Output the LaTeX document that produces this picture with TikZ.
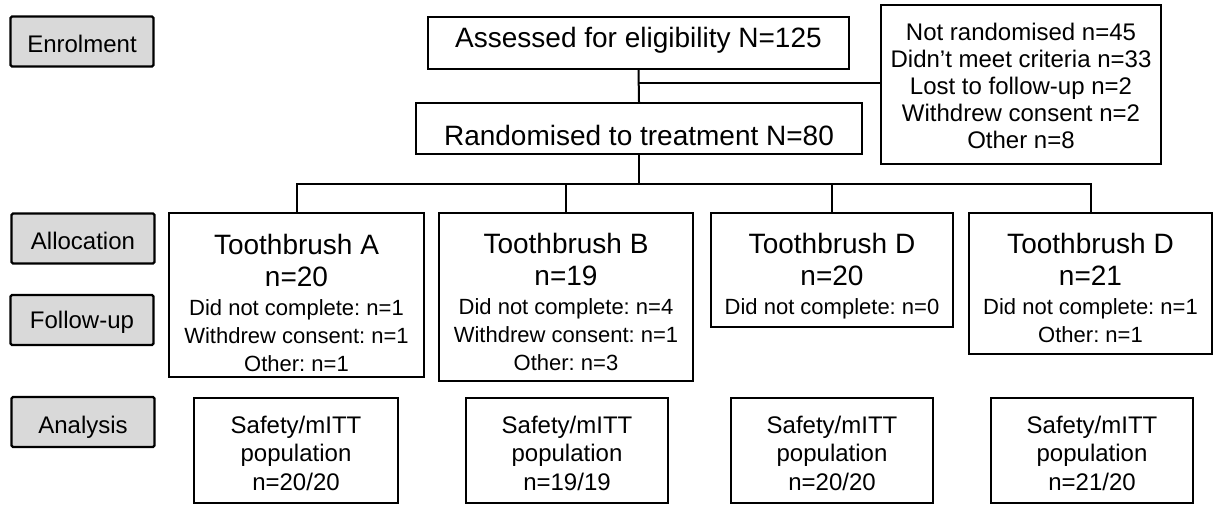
\documentclass[tikz,border=0pt]{standalone}
\usepackage{fontspec}
\setmainfont{Liberation Sans}
\definecolor{labelgray}{RGB}{217,217,217}
\frenchspacing
\begin{document}
\begin{tikzpicture}[x=1pt,y=-1pt,
  box/.style={draw=black, line width=2.2pt, inner sep=0pt},
  lab/.style={box, fill=labelgray, rounded corners=1.5pt, minimum width=143pt, minimum height=50pt},
  txt/.style={inner sep=0pt, align=center, anchor=north},
  big/.style={font=\fontsize{28}{32}\selectfont},
  small/.style={font=\fontsize{22}{28}\selectfont},
  mid/.style={font=\fontsize{24}{28.5}\selectfont},
  conn/.style={line width=2pt}]
\useasboundingbox (0,0) rectangle (1213,505);

% stage labels
\node[lab] (enrol) at (82,41.5) {};
\node[txt, mid] (enrolt) at (82,34.7) {Enrolment};
\node[lab] (alloc) at (83,238.5) {};
\node[txt, mid] (alloct) at (83,231.7) {Allocation};
\node[lab] (follow) at (82,320) {};
\node[txt, mid] (followt) at (82,310.7) {Follow-up};
\node[lab] (analysis) at (83,422) {};
\node[txt, mid] (analysist) at (83,415.5) {Analysis};

% enrolment
\node[box, minimum width=421pt, minimum height=52pt] (assess) at (638.5,43) {};
\node[txt, big] (assesst) at (638.5,26.7) {Assessed for eligibility N=125};
\node[box, minimum width=446pt, minimum height=51pt] (rand) at (639,128.5) {};
\node[txt, big] (randt) at (639,125) {Randomised to treatment N=80};
\node[box, minimum width=280pt, minimum height=159pt] (notrand) at (1021,84.5) {};
\node[txt, font=\fontsize{24}{27}\selectfont] (notrandt) at (1021,22.8)
  {Not randomised n=45\\Didn’t meet criteria n=33\\Lost to follow-up n=2\\Withdrew consent n=2\\Other n=8};

% arms
\node[box, minimum width=255pt, minimum height=164pt] (A) at (296.5,295) {};
\node[txt, small] (At) at (296.5,234)
  {{\fontsize{28}{32}\selectfont Toothbrush A}\\[4pt]{\fontsize{28}{32}\selectfont n=20}\\[1pt]Did not complete: n=1\\Withdrew consent: n=1\\Other: n=1};
\node[box, minimum width=254pt, minimum height=168pt] (B) at (566,297) {};
\node[txt, small] (Bt) at (566,233)
  {{\fontsize{28}{32}\selectfont Toothbrush B}\\[4pt]{\fontsize{28}{32}\selectfont n=19}\\[1pt]Did not complete: n=4\\Withdrew consent: n=1\\Other: n=3};
\node[box, minimum width=242pt, minimum height=114pt] (C) at (832,270) {};
\node[txt, small] (Ct) at (832,233)
  {{\fontsize{28}{32}\selectfont Toothbrush D}\\[4pt]{\fontsize{28}{32}\selectfont n=20}\\[1pt]Did not complete: n=0};
\node[box, minimum width=243pt, minimum height=141pt] (D) at (1090.5,283.5) {};
\node[txt, small] (Dt) at (1090.5,233)
  {{\fontsize{28}{32}\selectfont Toothbrush D}\\[4pt]{\fontsize{28}{32}\selectfont n=21}\\[1pt]Did not complete: n=1\\Other: n=1};

% analysis
\node[box, minimum width=204pt, minimum height=105pt] (S1) at (296,450.5) {};
\node[txt, mid] (S1t) at (296,415.5) {Safety/mITT\\population\\n=20/20};
\node[box, minimum width=202pt, minimum height=105pt] (S2) at (567,450.5) {};
\node[txt, mid] (S2t) at (567,415.5) {Safety/mITT\\population\\n=19/19};
\node[box, minimum width=202pt, minimum height=105pt] (S3) at (832,450.5) {};
\node[txt, mid] (S3t) at (832,415.5) {Safety/mITT\\population\\n=20/20};
\node[box, minimum width=202pt, minimum height=105pt] (S4) at (1092,450.5) {};
\node[txt, mid] (S4t) at (1092,415.5) {Safety/mITT\\population\\n=21/20};

% connectors
\coordinate (j1) at (639,83);
\coordinate (bus) at (639,184);
\draw[conn] (assess.south) -- (rand.north);
\draw[conn] (j1) -- (j1 -| notrand.west);
\draw[conn] (rand.south) -- (bus);
\draw[conn] (A.north) -- (A.north |- bus) -- (D.north |- bus) -- (D.north);
\draw[conn] (B.north) -- (B.north |- bus);
\draw[conn] (C.north) -- (C.north |- bus);
\end{tikzpicture}
\end{document}
